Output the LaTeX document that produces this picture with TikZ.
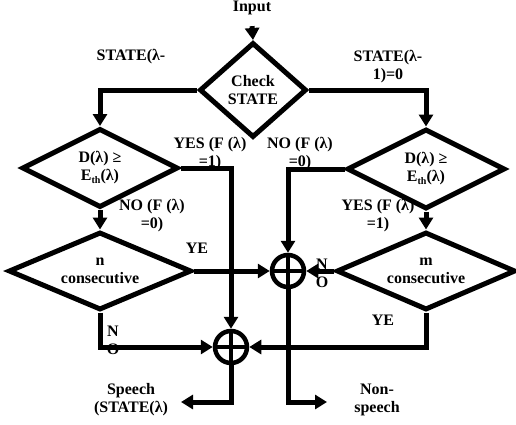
\documentclass[tikz,border=0pt]{standalone}
\usepackage{fontspec}
\setmainfont{Liberation Serif}
\usetikzlibrary{shapes.geometric,arrows.meta}
\begin{document}
\begin{tikzpicture}[x=1pt,y=-1pt,
  every node/.style={font=\bfseries\fontsize{16}{18}\selectfont, align=center, inner sep=0pt},
  dec/.style={diamond, draw, line width=5pt, inner sep=0pt, shape aspect=2},
  sum/.style={circle, draw, line width=4.5pt, minimum size=32pt,
    path picture={\draw[line width=4pt] (path picture bounding box.north) -- (path picture bounding box.south)
      (path picture bounding box.west) -- (path picture bounding box.east);}},
  conn/.style={line width=5pt},
  arr/.style={conn, -{Triangle[length=12pt,width=14pt]}},
]
\useasboundingbox (0,0) rectangle (516,424);
% labels (drawn first, lines overdraw them)
\node (input) at (252,8) {Input};
\node (s1) at (131,57) {STATE(λ-};
\node (s2) at (388,67) {STATE(λ-\\1)=0};
\node (y1) at (210,154) {YES (F (λ)\\=1)};
\node (n1) at (300,154) {NO (F (λ)\\=0)};
\node (n2) at (152,216) {NO (F (λ)\\=0)};
\node (y2) at (378,216) {YES (F (λ)\\=1)};
\node (ye1) at (197,248) {YE};
\node (no1) at (322,273) {N\\O};
\node (no2) at (113,340) {N\\O};
\node (ye2) at (383,320) {YE};
\node (spl) at (131,400) {Speech\\(STATE(λ)};
\node (nsl) at (377,400) {Non-\\speech};
% decisions
\node[dec, shape aspect=1, minimum width=107pt, minimum height=95pt] (check) at (253,90) {Check\\STATE};
\node[dec, minimum width=156pt, minimum height=79pt] (dl) at (100,168) {D(λ) ≥\\E\raisebox{-3pt}{\fontsize{10}{10}\selectfont th}(λ)};
\node[dec, minimum width=158pt, minimum height=80pt] (dr) at (426,169) {D(λ) ≥\\E\raisebox{-3pt}{\fontsize{10}{10}\selectfont th}(λ)};
\node[dec, minimum width=183pt, minimum height=78pt] (nl) at (100,271) {n\\consecutive};
\node[dec, minimum width=179pt, minimum height=78pt] (mr) at (426,271) {m\\consecutive};
% summing junctions
\node[sum] (uc) at (288,271) {};
\node[sum] (lc) at (231,347) {};
% free ends
\coordinate (nsp) at (327,402);
\coordinate (sp) at (181,402);
% connectors
\draw[arr] ([yshift=-11pt]input.south) -- (check.north);
\draw[arr] (check.west) -| (dl.north);
\draw[arr] (check.east) -| (dr.north);
\draw[arr] (dl.east) -| (lc.north);
\draw[arr] (dr.west) -| (uc.north);
\draw[arr] (dl.south) -- (nl.north);
\draw[arr] (dr.south) -- (mr.north);
\draw[arr] (nl.east) -- (uc.west);
\draw[arr] (mr.west) -- (uc.east);
\draw[arr] (nl.south) |- (lc.west);
\draw[arr] (mr.south) |- (lc.east);
\draw[arr] (uc.south) |- (nsp);
\draw[arr] (lc.south) |- (sp);
\end{tikzpicture}
\end{document}
